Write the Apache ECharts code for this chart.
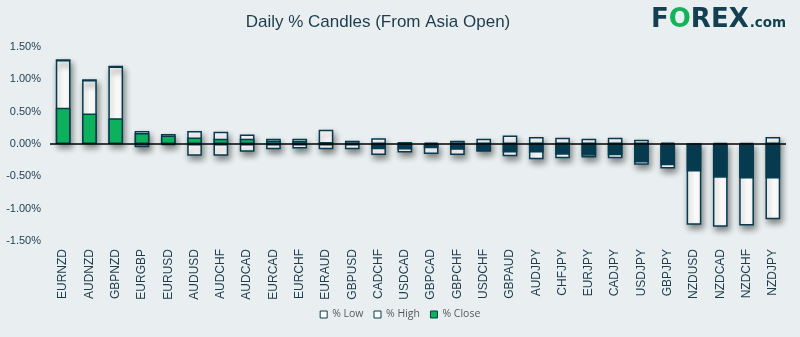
<!DOCTYPE html>
<html>
<head>
<meta charset="utf-8">
<script src="https://cdn.jsdelivr.net/npm/echarts@6/dist/echarts.min.js"></script>
<style>
html,body{margin:0;padding:0;background:#e9eff0;}
#chart{width:800px;height:337px;}
</style>
</head>
<body>
<div id="chart"></div>
<script>
const categories = ['EURNZD','AUDNZD','GBPNZD','EURGBP','EURUSD','AUDUSD','AUDCHF','AUDCAD','EURCAD','EURCHF','EURAUD','GBPUSD','CADCHF','USDCAD','GBPCAD','GBPCHF','USDCHF','GBPAUD','AUDJPY','CHFJPY','EURJPY','CADJPY','USDJPY','GBPJPY','NZDUSD','NZDCAD','NZDCHF','NZDJPY'];
const highs  = [1.30, 0.99, 1.20, 0.20, 0.155, 0.20, 0.19, 0.145, 0.08, 0.08, 0.22, 0.05, 0.09, 0.03, 0.02, 0.05, 0.08, 0.13, 0.11, 0.095, 0.08, 0.095, 0.065, 0.02, 0.0, 0.015, 0.015, 0.11];
const lows   = [0.0, 0.0, 0.0, -0.05, -0.015, -0.18, -0.18, -0.12, -0.08, -0.07, -0.08, -0.08, -0.17, -0.13, -0.155, -0.17, -0.12, -0.19, -0.235, -0.22, -0.21, -0.22, -0.32, -0.38, -1.25, -1.28, -1.26, -1.165];
const closes = [0.56, 0.47, 0.40, 0.17, 0.13, 0.10, 0.08, 0.08, 0.055, 0.05, 0.03, -0.01, -0.08, -0.085, -0.065, -0.09, -0.11, -0.13, -0.13, -0.165, -0.18, -0.175, -0.285, -0.33, -0.425, -0.52, -0.535, -0.535];
const yTicks = { min: -1.5, max: 1.5, interval: 0.5 };

const DARK = '#063b4f';
const GREEN = '#0db05b';
const TEXT = '#1d3c4c';

const chart = echarts.init(document.getElementById('chart'), null, { renderer: 'canvas' });

const boxStyle = {
  color: '#ffffff',
  borderColor: DARK,
  borderWidth: 1.5,
  shadowColor: 'rgba(0,0,0,0.45)',
  shadowBlur: 6,
  shadowOffsetX: 2,
  shadowOffsetY: 4
};

chart.setOption({
  animation: false,
  backgroundColor: '#e9eff0',
  title: {
    text: 'Daily % Candles (From Asia Open)',
    left: 373, top: 9, textAlign: 'center',
    textStyle: { fontFamily: 'Liberation Sans', fontSize: 17, fontWeight: 'normal', color: '#1e3b4b' }
  },
  graphic: [{
    type: 'text', left: 651, top: 7,
    style: {
      text: 'F{g|O}REX{s|.com}',
      font: 'bold 26px "DejaVu Sans"',
      fill: '#143f50',
      rich: {
        g: { fontFamily: 'DejaVu Sans', fontWeight: 'bold', fontSize: 26, fill: '#13b25b' },
        s: { fontFamily: 'DejaVu Sans', fontWeight: 'bold', fontSize: 13.5, fill: '#143f50', padding: [7, 0, 0, 1] }
      }
    }
  }],
  legend: {
    bottom: 12,
    left: 'center',
    itemWidth: 7, itemHeight: 7, itemGap: 10,
    icon: 'rect',
    textStyle: { fontFamily: 'Open Sans', fontSize: 10.5, color: '#595959' },
    data: [
      { name: '% Low', itemStyle: { color: '#fff', borderColor: DARK, borderWidth: 1, shadowBlur: 0, shadowOffsetX: 0, shadowOffsetY: 0 } },
      { name: '% High', itemStyle: { color: '#fff', borderColor: DARK, borderWidth: 1, shadowBlur: 0, shadowOffsetX: 0, shadowOffsetY: 0 } },
      { name: '% Close', itemStyle: { color: GREEN, borderColor: DARK, borderWidth: 1, shadowBlur: 0, shadowOffsetX: 0, shadowOffsetY: 0 } }
    ]
  },
  grid: { left: 50, right: 14, top: 47, bottom: 96, containLabel: false },
  xAxis: {
    type: 'category',
    data: categories,
    axisLine: { show: false, onZero: false },
    axisTick: { show: false },
    axisLabel: { rotate: 90, interval: 0, margin: 8, fontFamily: 'Liberation Sans', fontSize: 12, color: TEXT }
  },
  yAxis: {
    type: 'value',
    min: yTicks.min, max: yTicks.max, interval: yTicks.interval,
    axisLine: { show: false },
    axisTick: { show: false },
    splitLine: { show: false },
    axisLabel: {
      margin: 9, fontFamily: 'Liberation Sans', fontSize: 11, color: TEXT,
      formatter: v => v.toFixed(2) + '%'
    }
  },
  series: [
    {
      name: '% High', type: 'bar', stack: 'box', data: highs,
      barWidth: 14.7, itemStyle: boxStyle
    },
    {
      name: '% Low', type: 'bar', stack: 'box', data: lows,
      barWidth: 14.7, itemStyle: boxStyle
    },
    {
      name: '% Close', type: 'bar', data: closes,
      barWidth: 14.7, barGap: '-100%',
      itemStyle: {
        color: p => (p.value >= 0 ? GREEN : DARK),
        borderColor: DARK, borderWidth: 1.5
      },
      markLine: {
        silent: true, symbol: ['none', 'none'],
        label: { show: false },
        lineStyle: { color: '#000', width: 1.5, type: 'solid' },
        data: [{ yAxis: 0 }]
      }
    }
  ]
});
</script>
</body>
</html>
